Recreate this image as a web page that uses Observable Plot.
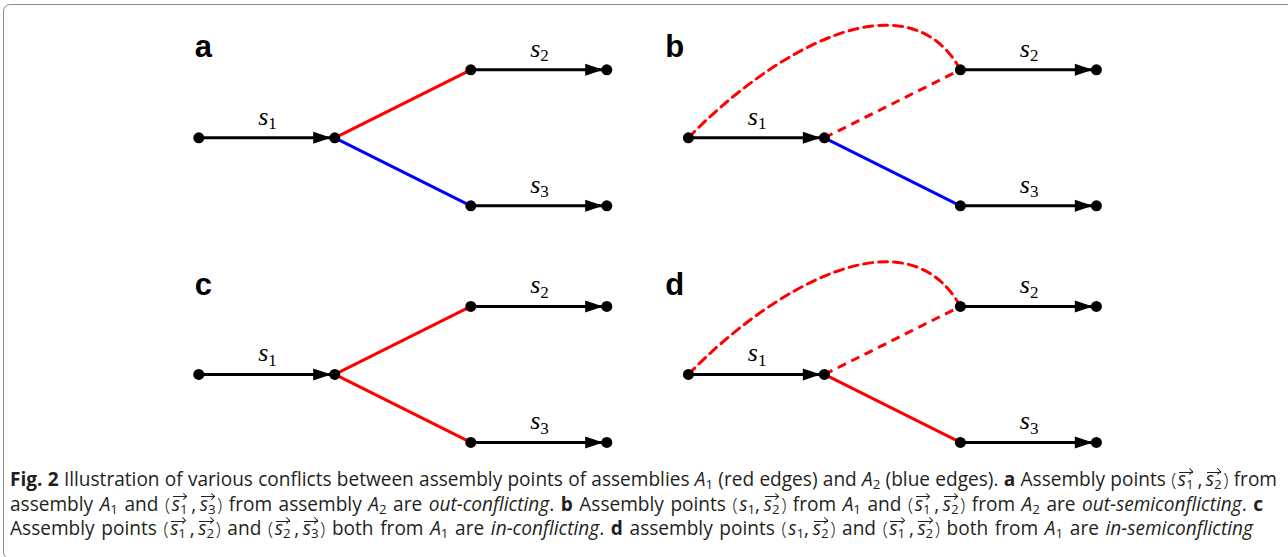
<!DOCTYPE html>
<html><head><meta charset="utf-8">
<script src="https://cdn.jsdelivr.net/npm/d3@7"></script>
<script src="https://cdn.jsdelivr.net/npm/@observablehq/plot@0.6"></script>
<style>
html,body{margin:0;padding:0;background:#fff;width:1288px;height:557px;overflow:hidden;position:relative}
#chart{position:absolute;left:0;top:0}
#frame{position:absolute;left:3px;top:4px;width:1300px;height:555px;border:1.5px solid #8c8c8c;border-radius:7px;box-sizing:border-box;pointer-events:none;z-index:2}
#caption{position:absolute;left:10px;top:467px;font-family:"Open Sans",sans-serif;font-size:15.5px;color:#231f20;line-height:24.5px;z-index:1}
.line{display:block;text-align:justify;text-align-last:justify;white-space:nowrap}
.line.measure{display:inline-block;text-align:left;text-align-last:auto}
.v{position:relative;font-style:italic}
.v::before{content:"";position:absolute;left:1px;right:1px;top:0.3em;border-top:1.1px solid #231f20}
.v::after{content:"";position:absolute;right:1.2px;top:calc(0.3em - 2.3px);width:4.3px;height:4.3px;border-top:1.1px solid #231f20;border-right:1.1px solid #231f20;transform:rotate(45deg);transform-origin:center}
sub{font-size:0.7em;vertical-align:-0.2em;line-height:0;font-style:normal}
.p{font-weight:300}
.p.l{margin-right:0.08em}
.p.r{margin-left:0.08em}
.cm{margin:0 0.18em 0 0.2em}
.cm2{margin:0 0.2em 0 0}
b{font-weight:700}
</style></head>
<body>
<div id="chart"></div>
<div id="frame"></div>
<div id="caption"></div>
<script>
// ---- data ----
const panelNames = ["a", "b", "c", "d"];
const panelDU = [0, 3.6, 0, 3.6];
const panelDV = [0, 0, -1.74, -1.74];
const letterU = [-0.03, 3.43, -0.03, 3.43];
const letterV = [0.593, 0.593, -1.154, -1.154];
const nodeU = [0, 1, 2, 3, 2, 3];
const nodeV = [0, 0, 0.5, 0.5, -0.5, -0.5];
const segNames = ["s1", "s2", "s3"];
const segFrom = [0, 2, 4];
const segTo = [1, 3, 5];
const adjPanel = ["a", "a", "b", "b", "c", "c", "d", "d"];
const adjFrom = [1, 1, 1, 1, 1, 1, 1, 1];
const adjTo = [2, 4, 2, 4, 2, 4, 2, 4];
const adjColor = ["#ff0000", "#0000ff", "#ff0000", "#0000ff", "#ff0000", "#ff0000", "#ff0000", "#ff0000"];
const adjDashed = [false, false, true, false, false, false, true, false];
const curvePanels = ["b", "d"];
const curveU = [0, 0.6, 1.6, 2];
const curveV = [0, 0.62, 1.22, 0.5];

// ---- build tables ----
const pIdx = p => panelNames.indexOf(p);
const nodes = panelNames.flatMap((p, i) => nodeU.map((u, j) => ({panel: p, u: u + panelDU[i], v: nodeV[j] + panelDV[i]})));
const segs = panelNames.flatMap((p, i) => segNames.map((s, k) => ({
  panel: p, name: s, digit: s.slice(1),
  x1: nodeU[segFrom[k]] + panelDU[i], y1: nodeV[segFrom[k]] + panelDV[i],
  x2: nodeU[segTo[k]] + panelDU[i], y2: nodeV[segTo[k]] + panelDV[i]
})));
const adj = adjPanel.map((p, k) => {
  const i = pIdx(p);
  return {panel: p, color: adjColor[k], dashed: adjDashed[k],
    x1: nodeU[adjFrom[k]] + panelDU[i], y1: nodeV[adjFrom[k]] + panelDV[i],
    x2: nodeU[adjTo[k]] + panelDU[i], y2: nodeV[adjTo[k]] + panelDV[i]};
});
const curvePts = curvePanels.flatMap(p => {
  const i = pIdx(p);
  return curveU.map((u, j) => ({panel: p, u: u + panelDU[i], v: curveV[j] + panelDV[i]}));
});

function cubicBezier(context) {
  let pts = [];
  return {
    areaStart() {}, areaEnd() {},
    lineStart() { pts = []; },
    point(x, y) { pts.push([+x, +y]); },
    lineEnd() {
      if (pts.length === 4) {
        context.moveTo(pts[0][0], pts[0][1]);
        context.bezierCurveTo(pts[1][0], pts[1][1], pts[2][0], pts[2][1], pts[3][0], pts[3][1]);
      }
    }
  };
}
const arrowHead = {draw(ctx) { ctx.moveTo(-3.6, 0); ctx.lineTo(-21.6, -6); ctx.lineTo(-21.6, 6); ctx.closePath(); }};

// scale: 136 px per unit, origin of panel a at (198.3, 137.3)
const W = 1288, H = 465, unit = 136, ox = 198.3, oy = 137.3;
const mid = (a, b) => (a + b) / 2;

const plot = Plot.plot({
  width: W, height: H, margin: 0,
  x: {domain: [-ox / unit, (W - ox) / unit], axis: null},
  y: {domain: [(oy - H) / unit, oy / unit], axis: null},
  style: {background: "transparent", overflow: "visible"},
  marks: [
    Plot.line(curvePts, {x: "u", y: "v", z: "panel", curve: cubicBezier, stroke: "#ff0000", strokeWidth: 3, strokeDasharray: "9,6"}),
    Plot.link(adj.filter(d => d.dashed), {x1: "x1", y1: "y1", x2: "x2", y2: "y2", stroke: "color", strokeWidth: 3, strokeDasharray: "9,6"}),
    Plot.link(adj.filter(d => !d.dashed), {x1: "x1", y1: "y1", x2: "x2", y2: "y2", stroke: "color", strokeWidth: 3}),
    Plot.link(segs, {x1: "x1", y1: "y1", x2: "x2", y2: "y2", stroke: "black", strokeWidth: 3}),
    Plot.dot(segs, {x: "x2", y: "y2", symbol: arrowHead, fill: "black", stroke: "none"}),
    Plot.dot(nodes, {x: "u", y: "v", r: 5.5, fill: "black"}),
    Plot.text(segs, {x: d => mid(d.x1, d.x2), y: "y1", text: () => "s", textAnchor: "end", lineAnchor: "bottom", dx: 1.5, dy: -13, fontFamily: "Liberation Serif", fontStyle: "italic", fontSize: 26, fill: "black"}),
    Plot.text(segs, {x: d => mid(d.x1, d.x2), y: "y1", text: "digit", textAnchor: "start", lineAnchor: "bottom", dx: 1.5, dy: -8.5, fontFamily: "Liberation Serif", fontSize: 17, fill: "black"}),
    Plot.text(panelNames, {x: letterU, y: letterV, text: d => d, textAnchor: "start", lineAnchor: "bottom", fontFamily: "Liberation Sans", fontWeight: "bold", fontSize: 31, fill: "black"})
  ]
});
document.getElementById("chart").appendChild(plot);

// ---- caption ----
const vec = n => `<span class="v">s<sub>${n}</sub></span>`;
const pl = n => `<i>s</i><sub>${n}</sub>`;
const pair = (a, b) => `<span class="p l">(</span>${a}<span class="cm">,</span>${b}<span class="p r">)</span>`;
const pair2 = (a, b) => `<span class="p l">(</span>${a}<span class="cm2">,</span>${b}<span class="p r">)</span>`;
const A = n => `<i>A</i><sub>${n}</sub>`;
const captionLines = [
  `<b>Fig. 2</b> Illustration of various conflicts between assembly points of assemblies ${A(1)} (red edges) and ${A(2)} (blue edges). <b>a</b> Assembly points ${pair(vec(1), vec(2))} from`,
  `assembly ${A(1)} and ${pair(vec(1), vec(3))} from assembly ${A(2)} are <i>out-conflicting</i>. <b>b</b> Assembly points ${pair2(pl(1), vec(2))} from ${A(1)} and ${pair(vec(1), vec(2))} from ${A(2)} are <i>out-semiconflicting</i>. <b>c</b>`,
  `Assembly points ${pair(vec(1), vec(2))} and ${pair(vec(2), vec(3))} both from ${A(1)} are <i>in-conflicting</i>. <b>d</b> assembly points ${pair2(pl(1), vec(2))} and ${pair(vec(1), vec(2))} both from ${A(1)} are <i>in-semiconflicting</i>`
];
const lineWidths = [1267, 1253, 1243];
const cap = document.getElementById("caption");
cap.innerHTML = captionLines.map((t, i) => `<div class="line measure">${t}</div>`).join("");
const lineEls = [...cap.querySelectorAll(".line")];
const baseFs = 15.5;
const ratio = Math.min(...lineEls.map((el, i) => lineWidths[i] / el.getBoundingClientRect().width));
cap.style.fontSize = (baseFs * ratio * 0.995).toFixed(2) + "px";
lineEls.forEach((el, i) => { el.classList.remove("measure"); el.style.width = lineWidths[i] + "px"; });
</script>
</body></html>
